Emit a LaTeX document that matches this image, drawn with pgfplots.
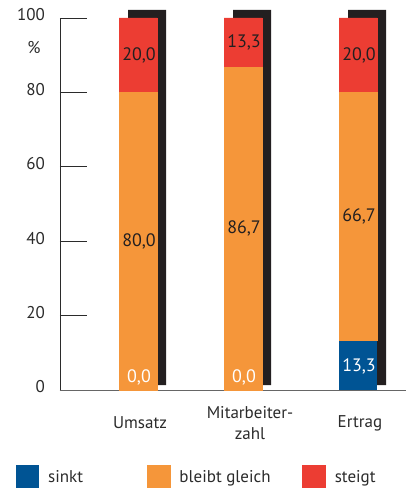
\documentclass[border=0pt]{standalone}
\usepackage{fontspec}
\setmainfont{PT Sans}
\usepackage{pgfplots}
\pgfplotsset{compat=1.18}

\definecolor{cBlue}{HTML}{005494}
\definecolor{cOrange}{HTML}{F5963A}
\definecolor{cRed}{HTML}{EC3D33}
\definecolor{cShadow}{HTML}{231F20}
\definecolor{cText}{HTML}{2B2B2B}

\pgfplotsset{
  base/.style={
    at={(60pt,98pt)}, anchor=origin,
    scale only axis, width=346pt, height=372pt,
    xmin=60, xmax=406, ymin=0, ymax=100,
    clip=false,
  },
  vals/.style={draw=none, mark=none, nodes near coords, point meta=explicit symbolic,
    every node near coord/.style={anchor=center, font=\fontsize{18}{20}\selectfont, text=#1}},
}

\begin{document}
\begin{tikzpicture}[x=1pt,y=1pt]
\useasboundingbox (0,0) rectangle (406,488);

% shadows
\begin{axis}[base, hide axis, ybar stacked, bar width=38]
  \addplot[draw=none, fill=none] coordinates {(147,1.3) (252,1.3) (367,1.3)};
  \addplot[draw=none, fill=cShadow] coordinates {(147,100.9) (252,100.9) (367,100.9)};
\end{axis}

\begin{axis}[base, ybar stacked, bar width=38,
  axis lines*=left,
  axis line style={cText, line width=0.9pt},
  x axis line style={gray!80!black},
  ytick={0,20,...,100},
  xtick={140,250,360},
  xticklabels={Umsatz, {Mitarbeiter-\\zahl}, Ertrag},
  xticklabel style={anchor=center, yshift=-33pt, align=center, font=\fontsize{17}{21}\selectfont, text=cText},
  x tick style={draw=none},
  y tick style={cText, line width=0.8pt},
  major tick length=27pt, tick align=inside,
  /pgf/number format/assume math mode=true,
  yticklabel style={anchor=east, inner sep=0pt, xshift=-15pt, yshift=3pt, font=\fontsize{17}{20}\selectfont, text=cText},
  legend columns=3,
  legend style={at={(-0.1272,-0.2016)}, anchor=north west, draw=none, fill=none, inner sep=0pt,
    font=\fontsize{17}{20}\selectfont, text=cText,
    nodes={inner sep=0pt},
    /tikz/every odd column/.append style={column sep=9pt}},
  legend cell align=left,
  legend image code/.code={\fill[#1] (0pt,-11.5pt) rectangle (23pt,11.5pt);},
]
  \addplot[draw=none, fill=cBlue] coordinates {(138,0) (243,0) (358,13.3)};
  \addplot[draw=cOrange, line width=0.3pt, fill=cOrange] coordinates {(138,80) (243,86.7) (358,66.7)};
  \addplot[draw=cRed, line width=0.3pt, fill=cRed] coordinates {(138,20) (243,13.3) (358,20)};
  \addlegendentry{\makebox[99pt][l]{sinkt}}
  \addlegendentry{\makebox[123pt][l]{bleibt gleich}}
  \addlegendentry{steigt}
\end{axis}

% value labels
\begin{axis}[base, hide axis]
  \addplot[vals=cShadow] coordinates {
    (139,90) [20,0] (139,40) [80,0]
    (244,93.4) [13,3] (244,43.4) [86,7]
    (359,90) [20,0] (359,46.6) [66,7]};
  \addplot[vals=white] coordinates {
    (139,3.4) [0,0] (244,3.4) [0,0] (359,6.4) [13,3]};
\end{axis}
\node[font=\fontsize{17}{20}\selectfont, text=cText] at (34,440) {\%};
\end{tikzpicture}
\end{document}
